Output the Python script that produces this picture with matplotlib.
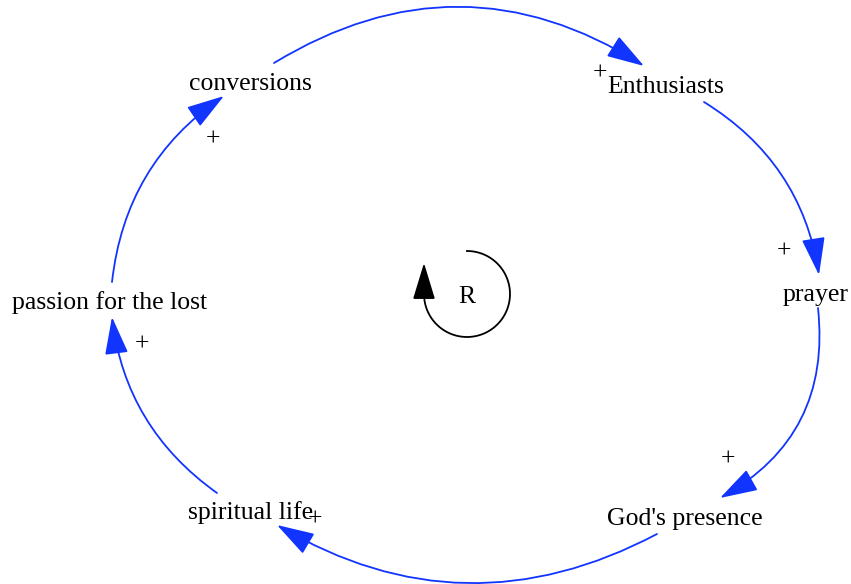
import numpy as np
import matplotlib
matplotlib.use("Agg")
import matplotlib.pyplot as plt
from matplotlib.patches import FancyArrowPatch, ArrowStyle

font_size = 18.5
blue = "#1234ff"

# node labels and where they sit (pixel coords, y down, baseline)
node_names = ["conversions", "Enthusiasts", "prayer", "God's presence",
              "spiritual life", "passion for the lost"]
node_x = [250, 666, 816, 685, 251, 110]
node_y = [90, 93, 301, 525, 519, 309]

# links: tail point, head point, curvature
link_start = [(274, 63), (704, 102), (818, 308), (657, 534), (217, 493), (112, 282)]
link_end = [(644, 66), (819, 275), (720, 498), (277, 525), (112, 317), (224, 96)]
link_rad = [-0.31, -0.23, -0.33, -0.28, -0.22, -0.23]

# polarity signs
pol_sign = ["+", "+", "+", "+", "+", "+"]
pol_x = [600, 784, 728, 315, 142, 213]
pol_y = [73, 251, 459, 519, 344, 139]

# loop marker
loop_label = "R"
loop_cx, loop_cy, loop_r = 467, 294, 43

fig = plt.figure(figsize=(8.51, 5.84), dpi=100)
ax = fig.add_axes([0, 0, 1, 1])
ax.set_xlim(0, 851)
ax.set_ylim(584, 0)
ax.axis("off")

txt = dict(fontfamily="Liberation Serif", fontsize=font_size, ha="center", va="baseline")

for name, x, y in zip(node_names, node_x, node_y):
    ax.text(x, y, name, **txt)

head = ArrowStyle("-|>", head_length=23.5, head_width=7.3)
for a, b, r in zip(link_start, link_end, link_rad):
    ax.add_patch(FancyArrowPatch(a, b, connectionstyle="arc3,rad=%.2f" % r,
                                 arrowstyle=head, color=blue, lw=1.3,
                                 shrinkA=0, shrinkB=0))

for s, x, y in zip(pol_sign, pol_x, pol_y):
    ax.text(x, y + 6.5, s, **txt)

# the R loop marker
t = np.linspace(-np.pi / 2, np.pi, 200)
ax.plot(loop_cx + loop_r * np.cos(t), loop_cy + loop_r * np.sin(t), color="black", lw=1.3)
ax.add_patch(FancyArrowPatch((loop_cx - loop_r, loop_cy + 2), (loop_cx - loop_r, loop_cy - 31),
                             arrowstyle=ArrowStyle("-|>", head_length=23, head_width=7),
                             color="black", lw=1.3, shrinkA=0, shrinkB=0))
ax.text(loop_cx, loop_cy + 9, loop_label, **txt)

fig.savefig("out.png", dpi=100)
